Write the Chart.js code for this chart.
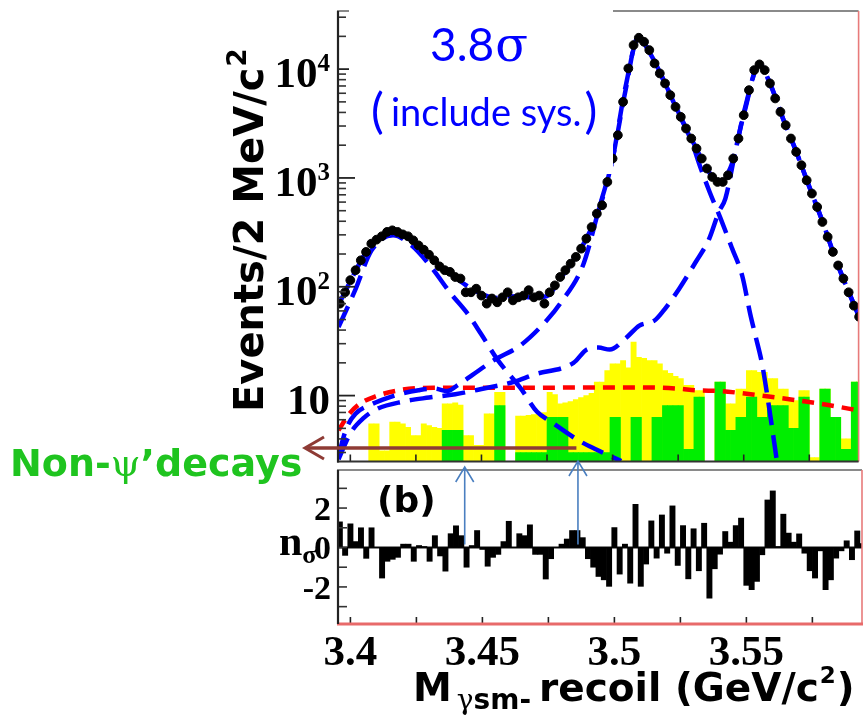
<!DOCTYPE html>
<html>
<head>
<meta charset="utf-8">
<script src="https://cdn.jsdelivr.net/npm/chart.js@4/dist/chart.umd.min.js"></script>
<style>
  html, body { margin: 0; padding: 0; background: #fff; }
  #wrap { position: relative; width: 864px; height: 715px; overflow: hidden; background: #fff; }
  #top { position: absolute; left: 0; top: 0; }
  #bot { position: absolute; left: 0; top: 455px; }
</style>
</head>
<body>
<div id="wrap">
  <canvas id="top" width="864" height="715"></canvas>
  <canvas id="bot" width="864" height="260"></canvas>
</div>
<script>
// ---------------- binning (2 MeV bins of the recoil mass) ----------------
const BIN_LO = 3.395;
const BIN_W = 0.002;
const N_BINS = 100;

// ---------------- axis ranges and tick labels ----------------
const X_MIN = 3.3953, X_MAX = 3.5938;
const Y_TOP_MIN = 2.48, Y_TOP_MAX = 34200;
const Y_BOT_MIN = -3.88, Y_BOT_MAX = 3.93;
const xTickLabels = [3.4, 3.45, 3.5, 3.55];
const xMinorTicks = [3.4, 3.425, 3.45, 3.475, 3.5, 3.525, 3.55, 3.575];
const yTopTicks = [10, 100, 1000, 10000];
const yTopExp = [1, 2, 3, 4];
const yBotTicks = [2, 0, -2];

// ---------------- events per bin (data points) ----------------
const counts = [
  70, 89, 115, 142, 175, 209, 249, 271, 291, 319,
  330, 319, 303, 291, 267, 240, 219, 197, 175, 154,
  142, 137, 123, 119, 89, 89, 96, 83, 70, 78,
  72, 80, 89, 75, 80, 83, 93, 80, 83, 70,
  89, 103, 123, 142, 163, 188, 224, 277, 354, 470,
  561, 919, 1508, 2471, 5003, 10150, 16630, 19410, 17830, 14950,
  11280, 9130, 7387, 5765, 4500, 3640, 2848, 2304, 1864, 1508,
  1220, 1021, 919, 919, 1058, 1508, 2304, 3775, 6409, 9790,
  11050, 9790, 7387, 5378, 4048, 3052, 2304, 1735, 1309, 952,
  719, 541, 394, 287, 209, 157, 119, 89, 67, 53
];

// ---------------- inclusive MC background (yellow) ----------------
const mcBkg = [
  0, 0, 0, 0, 0, 0, 5.5, 5.5, 3.1, 3.1,
  5.7, 5.7, 5.5, 5.1, 4.3, 4.3, 5.5, 5.3, 5.1, 5.0,
  8.4, 8.4, 8.6, 8.2, 4.3, 4.3, 3.5, 3.5, 6.8, 6.8,
  10.7, 10.7, 0, 0, 6.5, 6.5, 6.6, 6.7, 6.9, 7.0,
  10.7, 10.2, 8.4, 8.6, 8.8, 9.2, 9.6, 10.0, 10.5, 13.3,
  13.3, 17, 19.6, 19.6, 21, 18, 31, 22.5, 22, 21,
  21, 19.6, 17, 16, 15, 14.3, 12.4, 12.4, 11.1, 11.1,
  0, 0, 13.3, 13.3, 8.4, 8.4, 11.5, 11.5, 17, 17,
  16.4, 16.4, 14.3, 14.3, 11.5, 11.5, 9.0, 9.0, 11.1, 11.1,
  2.7, 2.7, 11.5, 11.5, 6.3, 6.3, 4.0, 4.0, 13.3, 13.3
];

// ---------------- continuum data (green, non-psi' decays) ----------------
const contData = [
  0, 0, 0, 0, 0, 0, 0, 0, 0, 0,
  0, 0, 0, 0, 0, 0, 0, 0, 0, 0,
  4.8, 4.8, 4.8, 4.8, 0, 0, 0, 0, 0, 0,
  8.1, 8.1, 0, 0, 3.0, 3.0, 3.0, 3.0, 3.0, 3.0,
  6.3, 6.3, 6.3, 6.3, 3.0, 3.0, 3.0, 3.0, 3.0, 3.0,
  3.0, 3.0, 6.3, 6.3, 0, 0, 6.3, 6.3, 0, 0,
  6.3, 6.3, 8.1, 8.1, 8.1, 8.1, 3.2, 3.2, 9.7, 9.7,
  0, 0, 13.3, 13.3, 4.8, 4.8, 6.3, 6.3, 9.7, 9.7,
  6.3, 6.3, 8.1, 8.1, 8.1, 8.1, 5.0, 5.0, 9.7, 9.7,
  0, 0, 11.5, 11.5, 6.3, 6.3, 3.2, 3.2, 13.3, 13.3
];

// ---------------- pulls n_sigma per bin ----------------
const pulls = [
  1.3, -0.4, 1.2, 0.3, 1.0, -0.55, 1.0, 0.0, -1.55, -0.7,
  -0.6, -0.5, 0.17, 0.17, -0.7, 0.1, 0.05, -0.7, 0.6, -0.43,
  -1.2, 0.7, 1.1, 0.6, -1.0, 0.1, 0.86, -0.1, -0.95, -0.5,
  -0.35, 0.3, 1.33, 0.0, 0.7, 0.6, 1.15, -0.35, -0.35, -1.6,
  -0.57, 0.0, 0.17, 0.43, 0.86, 0.86, 0.5, -0.57, -1.0, -1.47,
  -1.64, -1.97, 1.01, -1.35, 0.17, -1.81, 2.19, -1.97, -0.84, 1.35,
  -0.54, 1.65, -0.29, 2.11, -0.91, 1.11, -1.59, 0.95, -1.18, 1.23,
  -2.57, -1.08, -0.34, 0.81, 0.27, 1.11, 1.49, -1.92, -2.14, -1.72,
  -0.37, 2.41, 2.87, 0.05, 1.69, 0.73, 0.27, 0.69, -0.29, -1.18,
  -1.55, -0.17, -2.14, -1.64, -0.54, -0.17, 0.34, -0.62, 0.84, 0.2
];

// ---------------- fit curves ----------------
const fitTotalX = [3.3955, 3.400, 3.405, 3.410, 3.415, 3.420, 3.425, 3.430, 3.435, 3.440,
  3.445, 3.450, 3.455, 3.460, 3.465, 3.470, 3.475, 3.480, 3.485, 3.490,
  3.495, 3.500, 3.505, 3.510, 3.515, 3.520, 3.525, 3.530, 3.535, 3.540,
  3.545, 3.550, 3.556, 3.560, 3.565, 3.570, 3.575, 3.580, 3.585, 3.590, 3.594];
const fitTotalY = [68, 112, 190, 268, 322, 302, 245, 195, 150, 122,
  100, 86, 79, 82, 81, 80, 82, 118, 175, 277,
  530, 1500, 7000, 19400, 13000, 7400, 4050, 2300, 1350, 930,
  1250, 3800, 11000, 7400, 3500, 1750, 830, 400, 180, 90, 53];

const chic0X = [3.3955, 3.4018, 3.4081, 3.4163, 3.4233, 3.4308, 3.4384, 3.4447, 3.4498,
  3.4561, 3.4649, 3.4712, 3.4763, 3.4876, 3.494, 3.5033];
const chic0Y = [42.6, 92.7, 216, 297, 240, 152, 86, 56.6, 37, 21.4, 11.7, 7.1, 5.8, 3.8, 3.18, 2.5];

const chic1X = [3.3955, 3.3985, 3.402, 3.408, 3.414, 3.42, 3.426, 3.432, 3.437, 3.441,
  3.4466, 3.4548, 3.4649, 3.475, 3.48, 3.4889, 3.4946, 3.50, 3.505, 3.5096,
  3.515, 3.52, 3.525, 3.53, 3.5335, 3.537, 3.5412, 3.5456, 3.5494, 3.5525,
  3.5544, 3.557, 3.5595, 3.5627];
const chic1Y = [2.8, 5.0, 6.8, 8.3, 9.5, 10.5, 11.2, 11.6, 11.0, 12.5,
  15.5, 21.2, 29, 49.5, 70, 162, 500, 1500, 6500, 19300,
  13000, 7400, 4000, 2200, 1250, 743, 423, 224, 127, 56,
  36, 19.5, 8.3, 2.45];

const chic2X = [3.3955, 3.400, 3.405, 3.410, 3.420, 3.430, 3.440, 3.450, 3.4624, 3.470,
  3.4851, 3.4902, 3.4946, 3.4989, 3.5052, 3.5102, 3.516, 3.5191, 3.5254, 3.5317,
  3.5368, 3.5405, 3.543, 3.5469, 3.5506, 3.556, 3.560, 3.565, 3.570, 3.575,
  3.580, 3.585, 3.590, 3.594];
const chic2Y = [2.6, 4.5, 6.2, 7.5, 8.8, 9.6, 10.3, 11.5, 13.4, 15.6,
  20, 26.5, 27.6, 26.5, 34, 44, 49, 59, 96, 169,
  275, 487, 646, 1800, 4500, 11000, 7400, 3500, 1750, 830,
  400, 180, 90, 53];

const contFitX = [3.3955, 3.3992, 3.403, 3.4094, 3.4195, 3.432, 3.45, 3.47, 3.49, 3.51,
  3.525, 3.5317, 3.5418, 3.5494, 3.5595, 3.5696, 3.5822, 3.5938];
const contFitY = [4.8, 6.6, 8.2, 9.8, 11.3, 11.8, 11.8, 11.8, 11.9, 11.9,
  11.6, 11.2, 11.0, 10.5, 9.8, 9.1, 8.2, 7.3];

// positions of the two marked recoil masses
const markX = [3.4433, 3.4862];

// ---------------- helpers ----------------
const binCenters = Array.from({length: N_BINS}, (_, i) => BIN_LO + BIN_W * (i + 0.5));
const pts = (xs, ys) => xs.map((x, i) => ({x, y: ys[i]}));
const binned = ys => binCenters.map((x, i) => ({x, y: ys[i]}));

const BLUE = '#0000ff';
const SERIF = '"Liberation Serif", "Times New Roman", serif';
const TITLE = '"DejaVu Sans", "Liberation Sans", Arial, sans-serif';

function seg(ctx, x1, y1, x2, y2, color, w) {
  ctx.beginPath();
  ctx.moveTo(x1, y1);
  ctx.lineTo(x2, y2);
  ctx.strokeStyle = color;
  ctx.lineWidth = w;
  ctx.stroke();
}

function fitLine(xs, ys, order) {
  return {
    type: 'line', data: pts(xs, ys), order,
    borderColor: BLUE, borderWidth: 4.5, borderDash: [23, 10],
    pointRadius: 0, cubicInterpolationMode: 'monotone', fill: false
  };
}

const xScale = { type: 'linear', min: X_MIN, max: X_MAX, display: false, offset: false, grid: { offset: false } };

// ---------------- upper panel decorations ----------------
const topDecor = {
  id: 'topDecor',
  afterDatasetsDraw(chart) {
    const {ctx, chartArea: a, scales: {x, y}} = chart;
    ctx.save();
    for (let d = 0; d <= 4; d++) {
      for (let m = 2; m <= 9; m++) {
        const v = m * Math.pow(10, d);
        if (v < Y_TOP_MIN || v > Y_TOP_MAX) continue;
        const py = y.getPixelForValue(v);
        seg(ctx, a.left, py, a.left + 8, py, '#333', 1.6);
      }
    }
    yTopTicks.forEach(v => {
      const py = y.getPixelForValue(v);
      seg(ctx, a.left, py, a.left + 17, py, '#222', 1.8);
    });
    xMinorTicks.forEach(v => {
      const px = x.getPixelForValue(v);
      seg(ctx, px, a.bottom, px, a.bottom - 7, '#222', 1.6);
    });
    seg(ctx, a.left - 1, a.top, a.right, a.top, '#8a8a8a', 2.2);
    seg(ctx, a.right, a.top, a.right, a.bottom, '#e87a7a', 1.6);
    seg(ctx, a.left - 1, a.bottom, a.right, a.bottom, '#333', 2.2);
    seg(ctx, a.left, a.top, a.left, a.bottom + 1, '#222', 2.2);
    ctx.restore();
  },
  afterDraw(chart) {
    const {ctx, scales: {x, y}} = chart;
    ctx.save();
    ctx.fillStyle = '#000';
    ctx.textBaseline = 'alphabetic';
    // decade labels 10, 10^2, 10^3, 10^4
    yTopTicks.forEach((v, i) => {
      const py = y.getPixelForValue(v);
      const right = 330;
      ctx.textAlign = 'right';
      if (yTopExp[i] === 1) {
        ctx.font = 'bold 43px ' + SERIF;
        ctx.fillText('10', right, py + 18);
      } else {
        ctx.font = 'bold 25px ' + SERIF;
        ctx.fillText(String(yTopExp[i]), right, py + 2);
        const ew = ctx.measureText(String(yTopExp[i])).width;
        ctx.font = 'bold 43px ' + SERIF;
        ctx.fillText('10', right - ew, py + 18);
      }
    });
    // y axis title
    ctx.save();
    ctx.translate(263, 412);
    ctx.rotate(-Math.PI / 2);
    ctx.textAlign = 'left';
    ctx.font = 'bold 40px ' + TITLE;
    const t1 = 'Events/2 MeV/c';
    ctx.fillText(t1, 0, 0);
    const w1 = ctx.measureText(t1).width;
    ctx.font = 'bold 26px ' + TITLE;
    ctx.fillText('2', w1 + 1, -17);
    ctx.restore();

    // significance note on a white card
    ctx.fillStyle = '#fff';
    ctx.fillRect(349, 6, 264, 168);
    ctx.fillStyle = BLUE;
    ctx.textAlign = 'left';
    ctx.font = '46px Lato, "Open Sans", sans-serif';
    ctx.fillText('3.8', 430, 61);
    const w38 = ctx.measureText('3.8').width;
    ctx.font = '48px "DejaVu Serif", serif';
    ctx.fillText('σ', 430 + w38 + 1, 61);
    ctx.font = '48px Lato, "Open Sans", sans-serif';
    ctx.fillText('(', 371, 128);
    ctx.font = '38px Lato, "Open Sans", sans-serif';
    ctx.fillText('include sys.', 391, 126);
    const wi = ctx.measureText('include sys.').width;
    ctx.font = '48px Lato, "Open Sans", sans-serif';
    ctx.fillText(')', 391 + wi + 3, 128);

    // non-psi' label with pointer
    const gx = 10, gy = 476;
    ctx.fillStyle = '#1fc41f';
    ctx.font = 'bold 38px "DejaVu Sans", sans-serif';
    ctx.fillText('Non-', gx, gy);
    let cx = gx + ctx.measureText('Non-').width;
    ctx.font = '38px "DejaVu Serif", serif';
    ctx.fillText('ψ', cx, gy);
    cx += ctx.measureText('ψ').width;
    ctx.font = 'bold 38px "DejaVu Sans", sans-serif';
    ctx.fillText('’decays', cx, gy);

    const ax1 = x.getPixelForValue(markX[1]);
    const ay = 448;
    ctx.strokeStyle = '#8e3b35';
    ctx.lineWidth = 3.5;
    ctx.beginPath();
    ctx.moveTo(ax1, ay);
    ctx.lineTo(306, ay);
    ctx.stroke();
    ctx.lineWidth = 3;
    ctx.beginPath();
    ctx.moveTo(324, ay - 11);
    ctx.lineTo(305, ay);
    ctx.lineTo(324, ay + 11);
    ctx.stroke();
    ctx.restore();
  }
};

// ---------------- lower panel decorations ----------------
const botDecor = {
  id: 'botDecor',
  beforeDatasetsDraw(chart) {
    const {ctx, chartArea: a, scales: {y}} = chart;
    const py = y.getPixelForValue(0);
    ctx.save();
    seg(ctx, a.left, py, a.right, py, '#111', 1.8);
    ctx.restore();
  },
  afterDatasetsDraw(chart) {
    const {ctx, chartArea: a, scales: {x, y}} = chart;
    ctx.save();
    for (let v = -3; v <= 3; v++) {
      const py = y.getPixelForValue(v);
      seg(ctx, a.left, py, a.left + 9, py, '#333', 1.6);
    }
    xMinorTicks.forEach(v => {
      const px = x.getPixelForValue(v);
      seg(ctx, px, a.bottom, px, a.bottom - 7, '#222', 1.6);
    });
    seg(ctx, a.left - 1, a.top, a.right, a.top, '#8a8a8a', 2.2);
    seg(ctx, a.right, a.top, a.right, a.bottom, '#e87a7a', 1.6);
    seg(ctx, a.left - 1, a.bottom, a.right + 1, a.bottom, '#e86a6a', 3);
    seg(ctx, a.left, a.top, a.left, a.bottom, '#222', 2.2);
    ctx.restore();
  },
  afterDraw(chart) {
    const {ctx, chartArea: a, scales: {x, y}} = chart;
    ctx.save();
    ctx.fillStyle = '#000';
    // panel tag
    ctx.font = 'bold 36px ' + TITLE;
    ctx.textAlign = 'left';
    ctx.fillText('(b)', 377, 57);
    // y tick labels
    ctx.font = 'bold 34px ' + SERIF;
    ctx.textAlign = 'right';
    yBotTicks.forEach(v => {
      const py = y.getPixelForValue(v);
      ctx.fillText(v < 0 ? '-' + Math.abs(v) : String(v), 331, py + 12);
    });
    // y title n_sigma
    ctx.textAlign = 'left';
    ctx.font = 'bold 42px ' + SERIF;
    ctx.fillText('n', 279, 100);
    const nw = ctx.measureText('n').width;
    ctx.font = 'bold 26px ' + SERIF;
    ctx.fillText('σ', 279 + nw, 108);
    // x tick labels
    ctx.font = 'bold 43px ' + SERIF;
    ctx.textAlign = 'center';
    xTickLabels.forEach(v => {
      ctx.fillText(String(v), x.getPixelForValue(v), a.bottom + 41);
    });
    // x title
    ctx.textAlign = 'left';
    const by = a.bottom + 77;
    ctx.font = 'bold 39px ' + TITLE;
    ctx.fillText('M', 413, by);
    let cx = 413 + ctx.measureText('M').width + 5;
    ctx.font = '28px "DejaVu Serif", serif';
    ctx.fillText('γ', cx, by + 8);
    cx += ctx.measureText('γ').width;
    ctx.font = 'bold 28px ' + TITLE;
    ctx.fillText('sm-', cx, by + 8);
    cx += ctx.measureText('sm-').width + 8;
    ctx.font = 'bold 39px ' + TITLE;
    ctx.fillText('recoil (GeV/c', cx, by);
    cx += ctx.measureText('recoil (GeV/c').width;
    ctx.font = 'bold 23px ' + TITLE;
    ctx.fillText('2', cx + 1, by - 18);
    cx += ctx.measureText('2').width + 2;
    ctx.font = 'bold 39px ' + TITLE;
    ctx.fillText(')', cx, by);

    // arrows marking two recoil masses
    ctx.strokeStyle = '#4a7fc0';
    ctx.lineWidth = 1.6;
    const tips = [a.top - 3, a.top - 9];
    markX.forEach((mx, i) => {
      const px = x.getPixelForValue(mx);
      const y0 = y.getPixelForValue(0.15);
      const yt = tips[i];
      ctx.beginPath();
      ctx.moveTo(px, y0);
      ctx.lineTo(px, yt);
      ctx.moveTo(px - 9, yt + 15);
      ctx.lineTo(px, yt);
      ctx.lineTo(px + 9, yt + 15);
      ctx.stroke();
    });
    ctx.restore();
  }
};

// ---------------- upper panel: spectrum on log scale ----------------
new Chart(document.getElementById('top'), {
  type: 'bar',
  data: {
    datasets: [
      {
        type: 'line', data: binned(counts), order: 0, showLine: false,
        pointRadius: 4.4, pointBackgroundColor: '#000', pointBorderColor: '#000', pointBorderWidth: 1
      },
      fitLine(fitTotalX, fitTotalY, 1),
      fitLine(chic0X, chic0Y, 2),
      fitLine(chic1X, chic1Y, 2),
      fitLine(chic2X, chic2Y, 2),
      {
        type: 'line', data: pts(contFitX, contFitY), order: 3,
        borderColor: '#ff0000', borderWidth: 4.5, borderDash: [12, 8],
        pointRadius: 0, cubicInterpolationMode: 'monotone', fill: false
      },
      {
        type: 'bar', data: binned(contData), order: 4, backgroundColor: '#00ee00',
        borderWidth: 0, barPercentage: 1, categoryPercentage: 1, grouped: false
      },
      {
        type: 'bar', data: binned(mcBkg), order: 5, backgroundColor: '#ffff00',
        borderWidth: 0, barPercentage: 1, categoryPercentage: 1, grouped: false
      }
    ]
  },
  options: {
    responsive: false, animation: false, devicePixelRatio: 1, events: [],
    layout: { padding: { left: 338, right: 2, top: 11, bottom: 715 - 461.5 } },
    plugins: { legend: { display: false }, tooltip: { enabled: false } },
    scales: {
      x: xScale,
      y: { type: 'logarithmic', min: Y_TOP_MIN, max: Y_TOP_MAX, display: false }
    }
  },
  plugins: [topDecor]
});

// ---------------- lower panel: pulls ----------------
new Chart(document.getElementById('bot'), {
  type: 'bar',
  data: {
    datasets: [{
      data: binned(pulls), backgroundColor: '#000', borderColor: '#000', borderWidth: 0,
      barPercentage: 1, categoryPercentage: 1, grouped: false
    }]
  },
  options: {
    responsive: false, animation: false, devicePixelRatio: 1, events: [],
    layout: { padding: { left: 338, right: 2, top: 470 - 455, bottom: 260 - (624 - 455) } },
    plugins: { legend: { display: false }, tooltip: { enabled: false } },
    scales: {
      x: xScale,
      y: { type: 'linear', min: Y_BOT_MIN, max: Y_BOT_MAX, display: false }
    }
  },
  plugins: [botDecor]
});
</script>
</body>
</html>
